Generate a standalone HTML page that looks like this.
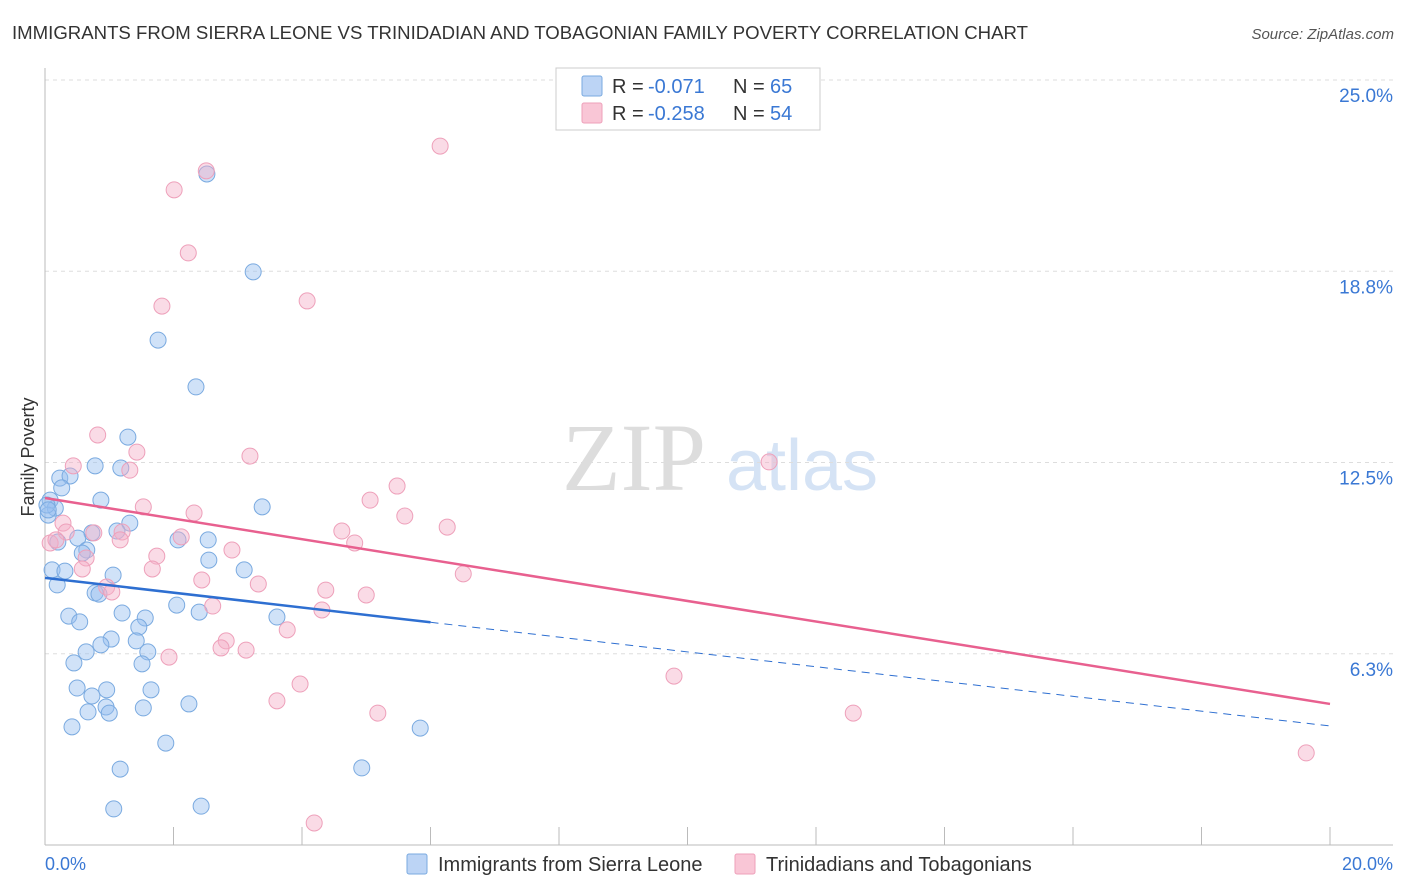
<!DOCTYPE html>
<html><head><meta charset="utf-8"><style>
body{margin:0;background:#fff;font-family:"Liberation Sans",sans-serif;}
#wrap{position:relative;width:1406px;height:892px;overflow:hidden;}
</style></head><body>
<div id="wrap">
<svg id="svg" width="1406" height="892" xmlns="http://www.w3.org/2000/svg">
<text x="12" y="39" font-size="18" fill="#333" textLength="1016" lengthAdjust="spacingAndGlyphs">IMMIGRANTS FROM SIERRA LEONE VS TRINIDADIAN AND TOBAGONIAN FAMILY POVERTY CORRELATION CHART</text>
<text x="1394" y="39" font-size="15" fill="#555" font-style="italic" text-anchor="end">Source: ZipAtlas.com</text>
<text x="34" y="457" font-size="18" fill="#333" transform="rotate(-90 34 457)" text-anchor="middle">Family Poverty</text>
<g><text x="634" y="490" font-size="96" fill="#ddd" font-family="Liberation Serif,serif" text-anchor="middle">ZIP</text><text x="802" y="490" font-size="72" fill="#d5e3f5" text-anchor="middle">atlas</text></g>
<g id="grid"></g><g id="axes"></g><g id="pts"></g><g id="trend"></g>
<g>
<rect x="556" y="68" width="264" height="62" fill="#fff" stroke="#ccc"/>
<rect x="582" y="76" width="20" height="20" fill="#bcd4f5" stroke="#7aaae0" rx="2"/>
<text x="612" y="93" font-size="20" fill="#333">R =</text>
<text x="648" y="93" font-size="20" fill="#3a78d4">-0.071</text>
<text x="733" y="93" font-size="20" fill="#333">N =</text>
<text x="770" y="93" font-size="20" fill="#3a78d4">65</text>
<rect x="582" y="103" width="20" height="20" fill="#f9c6d6" stroke="#eea0ba" rx="2"/>
<text x="612" y="120" font-size="20" fill="#333">R =</text>
<text x="648" y="120" font-size="20" fill="#3a78d4">-0.258</text>
<text x="733" y="120" font-size="20" fill="#333">N =</text>
<text x="770" y="120" font-size="20" fill="#3a78d4">54</text>
</g>
<g>
<rect x="407" y="854" width="20" height="20" fill="#bcd4f5" stroke="#7aaae0" rx="2"/>
<text x="438" y="871" font-size="20" fill="#333">Immigrants from Sierra Leone</text>
<rect x="735" y="854" width="20" height="20" fill="#f9c6d6" stroke="#eea0ba" rx="2"/>
<text x="766" y="871" font-size="20" fill="#333">Trinidadians and Tobagonians</text>
</g>
</svg>
</div>
<script>
const blueX=[2.52,3.24,1.76,2.35,1.29,0.78,1.18,0.23,0.39,0.26,0.87,0.08,0.16,3.38,0.05,1.32,0.73,1.12,0.51,0.20,0.65,0.58,2.07,2.54,2.55,3.10,0.11,0.31,1.06,0.19,0.78,0.84,0.37,2.05,1.20,2.40,1.56,3.61,0.54,1.46,1.03,0.87,1.42,1.60,0.64,1.51,0.45,0.50,0.96,1.65,0.73,2.24,0.95,1.53,0.67,1.00,0.42,5.84,1.88,1.17,4.93,1.07,2.43,0.03,0.05];
const blueY=[21.93,18.73,16.50,14.97,13.33,12.39,12.32,11.99,12.06,11.67,11.27,11.27,11.01,11.05,10.78,10.52,10.20,10.26,10.03,9.90,9.64,9.54,9.97,9.97,9.31,8.99,8.99,8.95,8.82,8.50,8.24,8.20,7.48,7.84,7.58,7.61,7.42,7.45,7.29,7.12,6.73,6.54,6.67,6.31,6.31,5.92,5.95,5.13,5.07,5.07,4.87,4.61,4.51,4.48,4.35,4.31,3.86,3.82,3.33,2.48,2.52,1.18,1.27,11.11,10.95];
const pinkX=[2.51,6.15,2.01,2.23,1.82,4.08,0.82,1.43,3.19,1.32,0.44,11.27,5.48,5.06,1.53,2.32,5.60,6.26,4.62,0.28,0.33,0.76,1.20,2.12,1.17,4.82,0.08,0.17,2.91,1.74,0.64,1.67,0.58,6.51,3.32,2.44,0.96,1.04,4.37,5.00,2.61,4.31,3.77,2.82,2.74,3.13,1.93,9.79,3.97,3.61,5.18,12.58,19.63,4.19];
const pinkY=[22.03,22.84,21.41,19.35,17.61,17.78,13.40,12.84,12.71,12.25,12.39,12.52,11.73,11.27,11.05,10.85,10.75,10.39,10.26,10.52,10.23,10.20,10.23,10.07,9.97,9.87,9.87,9.97,9.64,9.44,9.38,9.02,9.02,8.86,8.53,8.66,8.43,8.27,8.33,8.17,7.81,7.68,7.03,6.67,6.44,6.37,6.14,5.52,5.26,4.71,4.31,4.31,3.01,0.72];
const yTicks=[25,18.75,12.5,6.25];
const yTickLabels=["25.0%","18.8%","12.5%","6.3%"];
const blueTrend=[8.73,3.89];
const pinkTrend=[11.34,4.61];
const blueSolidEnd=6.0;
const NS="http://www.w3.org/2000/svg";
const sx=v=>45+v*64.25, sy=v=>845-v*30.6;
function mk(parent,tag,attrs){const e=document.createElementNS(NS,tag);for(const k in attrs)e.setAttribute(k,attrs[k]);document.getElementById(parent).appendChild(e);return e;}
yTicks.forEach((t,i)=>{
 const l=mk('grid','line',{x1:45,x2:1393,y1:sy(t),y2:sy(t),stroke:'#ddd','stroke-dasharray':'4,4'});
 
 
 const tx=mk('grid','text',{x:1393,y:sy(t)+22,'font-size':19,fill:'#3a78d4','text-anchor':'end'});
 tx.textContent=yTickLabels[i];
 
 
});
mk('axes','line',{x1:45,x2:45,y1:68,y2:845,stroke:'#bbb'});
mk('axes','line',{x1:45,x2:1393,y1:845,y2:845,stroke:'#bbb'});
for(let i=0;i<=10;i++){const t=mk('axes','line',{x1:sx(i*2),x2:sx(i*2),y1:827,y2:845,stroke:'#bbb'});
 
 }
const x0=mk('axes','text',{x:45,y:870,'font-size':18,fill:'#3a78d4'});x0.textContent='0.0%';


const x1=mk('axes','text',{x:1393,y:870,'font-size':18,fill:'#3a78d4','text-anchor':'end'});x1.textContent='20.0%';


blueX.forEach((v,i)=>{const c=mk('pts','circle',{cx:sx(v),cy:sy(blueY[i]),r:8,fill:'rgba(150,190,240,0.45)',stroke:'#7aaae0','stroke-width':1});
 
 });
pinkX.forEach((v,i)=>{const c=mk('pts','circle',{cx:sx(v),cy:sy(pinkY[i]),r:8,fill:'rgba(245,175,200,0.45)',stroke:'#eea0ba','stroke-width':1});
 
 });
const bAt=x=>blueTrend[0]+(blueTrend[1]-blueTrend[0])*x/20;
const b1=mk('trend','line',{x1:sx(0),y1:sy(bAt(0)),x2:sx(blueSolidEnd),y2:sy(bAt(blueSolidEnd)),stroke:'#2e6fd1','stroke-width':2.5});


const b2=mk('trend','line',{x1:sx(blueSolidEnd),y1:sy(bAt(blueSolidEnd)),x2:sx(20),y2:sy(bAt(20)),stroke:'#2e6fd1','stroke-width':1,'stroke-dasharray':'8,6'});


const p1=mk('trend','line',{x1:sx(0),y1:sy(pinkTrend[0]),x2:sx(20),y2:sy(pinkTrend[1]),stroke:'#e8608f','stroke-width':2.5});


</script>
</body></html>
